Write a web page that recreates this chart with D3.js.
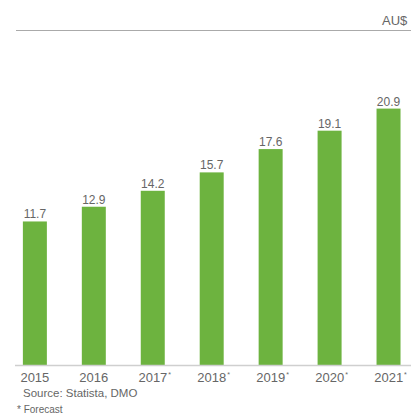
<!DOCTYPE html>
<html>
<head>
<meta charset="utf-8">
<script src="https://cdn.jsdelivr.net/npm/d3@7"></script>
<style>
  html, body { margin: 0; padding: 0; background: #fff; overflow: hidden; }
  svg { display: block; font-family: "Liberation Sans", Arial, sans-serif; }
</style>
</head>
<body>
<svg id="chart" width="411" height="416"></svg>
<script>
// Travel spend, AU$ billion
const years = ["2015", "2016", "2017", "2018", "2019", "2020", "2021"];
const values = [11.7, 12.9, 14.2, 15.7, 17.6, 19.1, 20.9];
const forecast = [false, false, true, true, true, true, true];
const unitLabel = "AU$ billion";
const sourceText = "Source: Statista, DMO";
const noteText = "* Forecast";

const svg = d3.select("#chart");
const baseY = 365;

const x = d3.scaleBand()
  .domain(years)
  .range([5.4, 418])
  .paddingInner(0.593)
  .paddingOuter(0.2965);

const y = d3.scaleLinear()
  .domain([0, 25])
  .range([baseY, 58.3]);

// unit header and rule
svg.append("text")
  .attr("x", 382).attr("y", 25)
  .attr("font-size", 13)
  .attr("fill", "#666")
  .text(unitLabel);

svg.append("line")
  .attr("x1", 16).attr("x2", 411)
  .attr("y1", 30.5).attr("y2", 30.5)
  .attr("stroke", "#aaa").attr("stroke-width", 1);

const data = years.map((yr, i) => ({ yr, v: values[i], f: forecast[i] }));

// bars
svg.append("g").selectAll("rect")
  .data(data)
  .join("rect")
  .attr("x", d => x(d.yr))
  .attr("y", d => y(d.v))
  .attr("width", x.bandwidth())
  .attr("height", d => baseY - y(d.v))
  .attr("fill", "#6db33f");

// value labels
svg.append("g").selectAll("text")
  .data(data)
  .join("text")
  .attr("x", d => x(d.yr) + x.bandwidth() / 2)
  .attr("y", d => y(d.v) - 3)
  .attr("text-anchor", "middle")
  .attr("font-size", 12)
  .attr("fill", "#666")
  .text(d => d.v.toFixed(1));

// baseline axis
const axis = svg.append("g")
  .attr("transform", `translate(0,${baseY})`)
  .call(d3.axisBottom(x).tickSize(0).tickPadding(0).tickFormat(""));
axis.select(".domain").remove();
axis.append("line")
  .attr("x1", 15).attr("x2", 411)
  .attr("y1", 0.5).attr("y2", 0.5)
  .attr("stroke", "#cfcfcf").attr("stroke-width", 1.5);

// year labels with forecast marks
const yearLabels = svg.append("g").selectAll("text")
  .data(data)
  .join("text")
  .attr("x", d => x(d.yr) + x.bandwidth() / 2 + (d.f ? 2 : 0))
  .attr("y", 382)
  .attr("text-anchor", "middle")
  .attr("font-size", 13)
  .attr("fill", "#666");
yearLabels.append("tspan").text(d => d.yr);
yearLabels.filter(d => d.f).append("tspan")
  .attr("dx", 1).attr("dy", -5)
  .attr("font-size", 7)
  .text("*");

// footnotes
svg.append("text")
  .attr("x", 23).attr("y", 397)
  .attr("font-size", 11.5)
  .attr("fill", "#666")
  .text(sourceText);

svg.append("text")
  .attr("x", 17).attr("y", 413)
  .attr("font-size", 10)
  .attr("fill", "#666")
  .text(noteText);
</script>
</body>
</html>
